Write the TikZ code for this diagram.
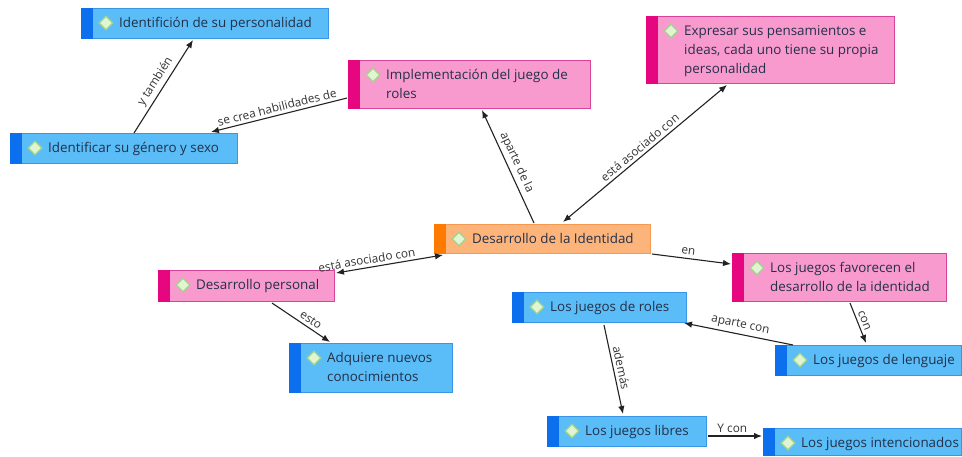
\documentclass[tikz,border=0pt]{standalone}
\usepackage{fontspec}
\setmainfont{Open Sans}
\usetikzlibrary{shapes.geometric,arrows.meta,calc}
\definecolor{bluefill}{HTML}{5BBDF8}
\definecolor{bluebar}{HTML}{0B6FEE}
\definecolor{blueline}{HTML}{3A95E6}
\definecolor{pinkfill}{HTML}{F99ACF}
\definecolor{pinkbar}{HTML}{E6067F}
\definecolor{pinkline}{HTML}{D8449A}
\definecolor{orfill}{HTML}{FDB47A}
\definecolor{orbar}{HTML}{FF7A00}
\definecolor{orline}{HTML}{F59A50}
\definecolor{gemfill}{HTML}{E2F5D2}
\definecolor{gemline}{HTML}{9FD48A}
\definecolor{txtc}{HTML}{22304A}
\definecolor{lblc}{HTML}{333333}
\definecolor{linec}{HTML}{222222}
\newcommand\cmbox[7]{%
  \node[draw=#6line, fill=#6fill, line width=0.8pt, minimum width=#4pt,
        minimum height=#5pt, inner sep=0pt, anchor=north west] (#1) at (#2,#3) {};
  \fill[#6bar] (#1.north west) rectangle ($(#1.south west)+(12,0)$);
  \node[gem] at ($(#1.north west)+(25,15)$) {};
  \node[boxtext, anchor=north west] at ($(#1.north west)+(38,6)$) {\strut #7};
}
\tikzset{
  gem/.style={diamond, draw=gemline, fill=gemfill, line width=1.2pt,
              minimum width=14pt, minimum height=14pt, inner sep=0pt},
  boxtext/.style={font=\fontsize{13.4}{19}\selectfont, text=txtc, align=left, inner sep=0pt},
  conn/.style={draw=linec, line width=1.1pt, -{Latex[length=8pt,width=6.5pt]}},
  bidir/.style={draw=linec, line width=1.1pt, {Latex[length=8pt,width=6.5pt]}-{Latex[length=8pt,width=6.5pt]}},
  lbl/.style={font=\fontsize{11.8}{13}\selectfont, text=lblc, inner sep=3pt, sloped}
}
\begin{document}
\begin{tikzpicture}[x=1pt,y=-1pt]
\useasboundingbox (0,0) rectangle (962,456);
\cmbox{idp}{81}{8}{247}{30}{blue}{Identifición de su personalidad}
\cmbox{imp}{348}{60}{242}{48}{pink}{Implementación del juego de\\roles}
\cmbox{gen}{10}{133}{227}{30}{blue}{Identificar su género y sexo}
\cmbox{exp}{646}{16}{248}{67}{pink}{Expresar sus pensamientos e\\ideas, cada uno tiene su propia\\personalidad}
\cmbox{did}{434}{224}{216}{29}{or}{Desarrollo de la Identidad}
\cmbox{dpe}{158}{270}{176}{31}{pink}{Desarrollo personal}
\cmbox{adq}{289}{343}{163}{49}{blue}{Adquiere nuevos\\conocimientos}
\cmbox{fav}{732}{253}{214}{48}{pink}{Los juegos favorecen el\\desarrollo de la identidad}
\cmbox{rol}{512}{292}{174}{30}{blue}{Los juegos de roles}
\cmbox{len}{775}{345}{186}{30}{blue}{Los juegos de lenguaje}
\cmbox{lib}{547}{416}{159}{30}{blue}{Los juegos libres}
\cmbox{int}{763}{428}{198}{27}{blue}{Los juegos intencionados}

\draw[conn] ($(gen.north west)+(124,0)$) -- node[lbl,above]{y también} ($(idp.north west)+(112,32)$);
\draw[conn] ($(imp.north west)+(-1,38)$) -- node[lbl,above]{se crea habilidades de} ($(gen.north west)+(201,-1)$);
\draw[conn] ($(did.north west)+(100,-1)$) -- node[lbl,above]{aparte de la} ($(imp.north west)+(134,50)$);
\draw[bidir] ($(did.north west)+(129,-2)$) -- node[lbl,above]{está asociado con} ($(exp.north west)+(81,69)$);
\draw[bidir] ($(dpe.north west)+(178,3)$) -- node[lbl,above,pos=0.3]{está asociado con} ($(did.north west)+(9,31)$);
\draw[conn] ($(dpe.north west)+(114,33)$) -- node[lbl,above,pos=0.6]{esto} ($(adq.north west)+(41,-1)$);
\draw[conn] ($(did.north west)+(218,30)$) -- node[lbl,above,pos=0.45]{en} ($(fav.north west)+(-1,11)$);
\draw[conn] ($(fav.north west)+(118,50)$) -- node[lbl,above]{con} ($(len.north west)+(91,-2)$);
\draw[conn] ($(len.north west)+(18,0)$) -- node[lbl,above]{aparte con} ($(rol.north west)+(172,31)$);
\draw[conn] ($(rol.north west)+(92,33)$) -- node[lbl,above]{además} ($(lib.north west)+(76,-2)$);
\draw[conn] ($(lib.north west)+(161,20)$) -- node[lbl,above,pos=0.45]{Y con} ($(int.north west)+(-1,8)$);
\end{tikzpicture}
\end{document}
